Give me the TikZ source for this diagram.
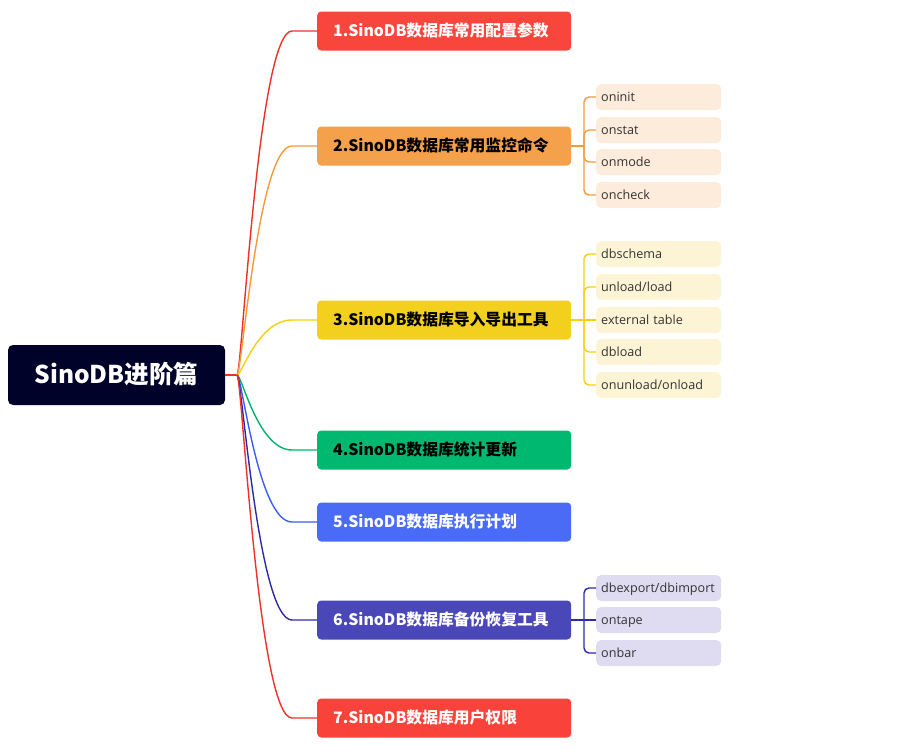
\documentclass[tikz,border=0pt]{standalone}
\usepackage{fontspec}
\setmainfont{Noto Sans CJK SC}
\newfontfamily\childfont{Open Sans}
\definecolor{rootc}{HTML}{000229}
\definecolor{bA}{HTML}{F9463C}
\definecolor{bB}{HTML}{F5A04B}
\definecolor{bC}{HTML}{F3D01E}
\definecolor{bD}{HTML}{00B86F}
\definecolor{bE}{HTML}{4A6BF5}
\definecolor{bF}{HTML}{4A47B9}
\definecolor{bG}{HTML}{F9423A}
\definecolor{lA}{HTML}{EE3028}
\definecolor{lB}{HTML}{F7993A}
\definecolor{lC}{HTML}{F5CF10}
\definecolor{lD}{HTML}{00B36B}
\definecolor{lE}{HTML}{3D5CF5}
\definecolor{lF}{HTML}{2C2AA8}
\definecolor{lG}{HTML}{F0302A}
\definecolor{cB}{HTML}{FDEBDC}
\definecolor{cC}{HTML}{FCF4D5}
\definecolor{cF}{HTML}{DFDCF1}
\definecolor{ctext}{HTML}{333333}
\begin{document}
\begin{tikzpicture}[x=1pt,y=-1pt,
  rootbox/.style={rectangle,rounded corners=5pt,fill=rootc,text=white,minimum width=217pt,minimum height=60pt,text height=19pt,text depth=3pt,font=\fontsize{24.5}{28}\selectfont\bfseries},
  branch/.style={rectangle,rounded corners=4pt,anchor=west,minimum width=254pt,minimum height=39pt,inner xsep=16pt,text width=222pt,align=left,text height=13.5pt,text depth=2pt,font=\fontsize{15.8}{18}\selectfont\bfseries},
  child/.style={rectangle,rounded corners=5pt,anchor=west,minimum width=125pt,minimum height=26pt,inner xsep=5pt,text width=115pt,align=left,text height=10.5pt,text depth=2pt,text=ctext,font=\childfont\fontsize{12.6}{15}\selectfont},
  conn/.style={line width=1.4pt},
  sub/.style={line width=1.4pt,rounded corners=5pt}]
\useasboundingbox (0,0) rectangle (922,748);
\node[rootbox] (root) at (116.5,375) {SinoDB进阶篇};
\node[branch,fill=bA,text=white] (b1) at (317,31) {1.SinoDB数据库常用配置参数};
\node[branch,fill=bB,text=black] (b2) at (317,146) {2.SinoDB数据库常用监控命令};
\node[branch,fill=bC,text=black] (b3) at (317,320) {3.SinoDB数据库导入导出工具};
\node[branch,fill=bD,text=black] (b4) at (317,450) {4.SinoDB数据库统计更新};
\node[branch,fill=bE,text=white] (b5) at (317,522) {5.SinoDB数据库执行计划};
\node[branch,fill=bF,text=white] (b6) at (317,620) {6.SinoDB数据库备份恢复工具};
\node[branch,fill=bG,text=white] (b7) at (317,718) {7.SinoDB数据库用户权限};
\coordinate (hub) at (237,375);
\draw[conn,lA] (root.east) -- (hub);
\foreach \b/\c in {b1/lA,b2/lB,b3/lC,b4/lD,b5/lE,b6/lF,b7/lG}{
  \draw[conn,\c] (hub) .. controls (242,375) and (258,0|-\b.west) .. (292,0|-\b.west) -- (\b.west);
}
% group 2
\node[child,fill=cB] (c21) at (596,97) {oninit};
\node[child,fill=cB] (c22) at (596,130) {onstat};
\node[child,fill=cB] (c23) at (596,162) {onmode};
\node[child,fill=cB] (c24) at (596,195) {oncheck};
\coordinate (j2) at (584,146);
\draw[conn,lB] (b2.east) -- (j2);
\foreach \c in {c21,c22,c23,c24} \draw[sub,lB] (j2) |- (\c.west);
% group 3
\node[child,fill=cC] (c31) at (596,254) {dbschema};
\node[child,fill=cC] (c32) at (596,287) {unload/load};
\node[child,fill=cC] (c33) at (596,320) {external table};
\node[child,fill=cC] (c34) at (596,352) {dbload};
\node[child,fill=cC] (c35) at (596,385) {onunload/onload};
\coordinate (j3) at (584,320);
\draw[conn,lC] (b3.east) -- (j3);
\foreach \c in {c31,c32,c34,c35} \draw[sub,lC] (j3) |- (\c.west);
\draw[conn,lC] (j3) -- (c33.west);
% group 6
\node[child,fill=cF] (c61) at (596,588) {dbexport/dbimport};
\node[child,fill=cF] (c62) at (596,620) {ontape};
\node[child,fill=cF] (c63) at (596,653) {onbar};
\coordinate (j6) at (584,620);
\draw[conn,lF] (b6.east) -- (j6);
\foreach \c in {c61,c63} \draw[sub,lF] (j6) |- (\c.west);
\draw[conn,lF] (j6) -- (c62.west);
\end{tikzpicture}
\end{document}
